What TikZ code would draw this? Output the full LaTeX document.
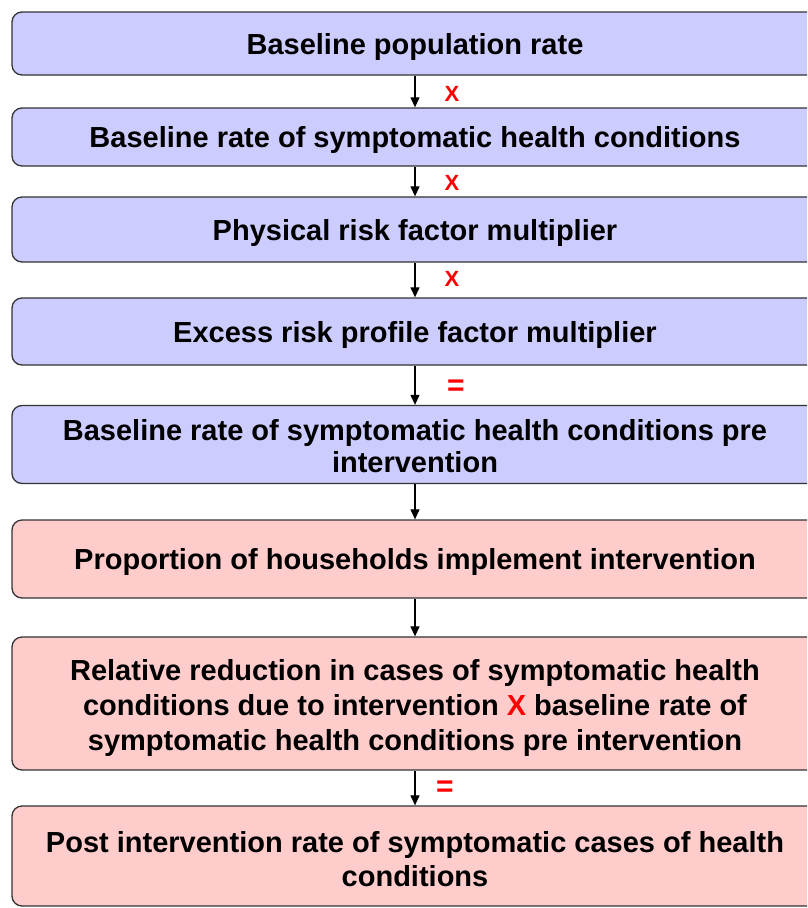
\documentclass[tikz,border=0pt]{standalone}
\usepackage{fontspec}
\setmainfont{Liberation Sans}
\usetikzlibrary{arrows.meta}
\definecolor{boxblue}{HTML}{CCCCFF}
\definecolor{boxpink}{HTML}{FFCCCC}
\definecolor{edge}{HTML}{333333}
\definecolor{opred}{HTML}{FF0000}
\newcommand{\boxtext}[2][3.5pt]{\raisebox{-#1}[\height][\depth]{\begin{tabular}{@{}c@{}}#2\end{tabular}}}
\tikzset{
  flowbox/.style={draw=edge, line width=1.3pt, rounded corners=10pt, minimum width=806pt,
    align=center, inner sep=0pt, font=\bfseries\fontsize{29}{35}\selectfont},
  bluebox/.style={flowbox, fill=boxblue},
  pinkbox/.style={flowbox, fill=boxpink},
  arr/.style={line width=1.2pt, -{Triangle[length=10pt,width=9pt]}},
  oplabel/.style={text=opred, font=\bfseries\fontsize{22}{24}\selectfont, inner sep=0pt},
  eqlabel/.style={text=opred, font=\bfseries\fontsize{30}{30}\selectfont, inner sep=0pt}
}
\begin{document}
\begin{tikzpicture}[x=1pt,y=-1pt]
\useasboundingbox (0,0) rectangle (807,908);
\clip (0,0) rectangle (807,908);
\node[bluebox, minimum height=63pt] (b1) at (415,43.5) {\boxtext{Baseline population rate}};
\node[bluebox, minimum height=58pt] (b2) at (415,137) {\boxtext{Baseline rate of symptomatic health conditions}};
\node[bluebox, minimum height=65pt] (b3) at (415,229.5) {\boxtext{Physical risk factor multiplier}};
\node[bluebox, minimum height=67pt] (b4) at (415,331.5) {\boxtext{Excess risk profile factor multiplier}};
\node[bluebox, minimum height=78pt] (b5) at (415,444.5) {\boxtext[4.5pt]{Baseline rate of symptomatic health conditions pre\\[-3pt]intervention}};
\node[pinkbox, minimum height=78pt] (b6) at (415,559) {\boxtext{Proportion of households implement intervention}};
\node[pinkbox, minimum height=133pt] (b7) at (415,703.5) {\boxtext[5pt]{Relative reduction in cases of symptomatic health\\conditions due to intervention {\color{opred}X} baseline rate of\\symptomatic health conditions pre intervention}};
\node[pinkbox, minimum height=100pt] (b8) at (415,856) {\boxtext[6.5pt]{Post intervention rate of symptomatic cases of health\\[-1pt]conditions}};
\draw[arr] (b1.south) -- (b2.north);
\draw[arr] (b2.south) -- (b3.north);
\draw[arr] (b3.south) -- (b4.north);
\draw[arr] (b4.south) -- (b5.north);
\draw[arr] (b5.south) -- (b6.north);
\draw[arr] (b6.south) -- (b7.north);
\draw[arr] (b7.south) -- (b8.north);
\node[oplabel] (x1) at (452,94) {X};
\node[oplabel] (x2) at (452,183) {X};
\node[oplabel] (x3) at (452,279) {X};
\node[eqlabel] (e1) at (456,388) {=};
\node[eqlabel] (e2) at (445,789) {=};
\end{tikzpicture}
\end{document}
